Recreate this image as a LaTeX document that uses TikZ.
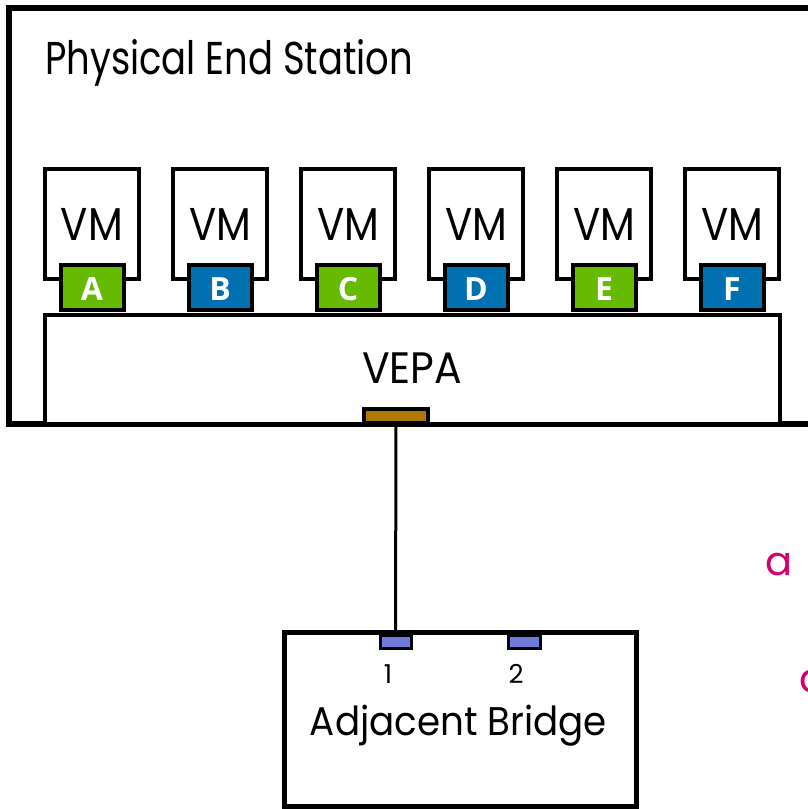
\documentclass[tikz,border=0pt]{standalone}
\usepackage{fontspec}
\setmainfont{Poppins}
\newfontfamily\portfont{Open Sans}
\definecolor{pgreen}{RGB}{102,187,0}
\definecolor{pblue}{RGB}{0,112,176}
\definecolor{pbrown}{RGB}{176,120,0}
\definecolor{pviolet}{RGB}{111,123,219}
\definecolor{pmagenta}{RGB}{210,0,110}
\tikzset{
  vmbox/.style={draw, line width=4pt, fill=white, minimum width=94pt, minimum height=110pt, inner sep=0pt},
  port/.style={draw, line width=4pt, minimum width=63pt, minimum height=45pt, inner sep=0pt},
  portlbl/.style={text=white, font=\portfont\bfseries\fontsize{32}{32}\selectfont, inner sep=0pt, anchor=base},
  vmlbl/.style={font=\fontsize{46}{46}\selectfont, inner sep=0pt, anchor=base},
  bport/.style={draw, line width=3pt, fill=pviolet, minimum height=13pt, inner sep=0pt},
}
\begin{document}
\begin{tikzpicture}[x=1pt,y=-1pt]
\useasboundingbox (0,0) rectangle (807,809);
% outer station box
\draw[line width=6pt] (9,8) rectangle (840,424);
\node[anchor=base west, inner sep=0pt, font=\fontsize{46}{46}\selectfont] (title) at (45,74) {\resizebox{368pt}{\height}{Physical End Station}};
% VMs
\foreach \i/\L/\c in {0/A/pgreen,1/B/pblue,2/C/pgreen,3/D/pblue,4/E/pgreen,5/F/pblue}{
  \node[vmbox] (vm\L) at ({92+128*\i},224) {};
  \node[vmlbl] (vmt\L) at ({92+128*\i},240) {\resizebox{62pt}{\height}{VM}};
}
% VEPA
\node[draw, line width=4pt, fill=white, minimum width=735pt, minimum height=109pt, inner sep=0pt] (vepa) at (412.5,369.5) {};
\node[vmlbl, font=\fontsize{44}{44}\selectfont] (vepat) at (412,383) {\resizebox{100pt}{\height}{VEPA}};
\foreach \i/\L/\c in {0/A/pgreen,1/B/pblue,2/C/pgreen,3/D/pblue,4/E/pgreen,5/F/pblue}{
  \node[port, fill=\c] (p\L) at ({92+128*\i},287.5) {};
  \node[portlbl] (pl\L) at ({92+128*\i},300) {\L};
}
\node[draw, line width=4pt, fill=pbrown, minimum width=64pt, minimum height=14pt, inner sep=0pt] (vport) at (396,416) {};
% bridge
\node[draw, line width=5pt, minimum width=352pt, minimum height=174pt, inner sep=0pt] (bridge) at (460,719) {};
\node[bport, minimum width=31pt] (b1) at (395.5,641.5) {};
\node[bport, minimum width=32pt] (b2) at (524,641.5) {};
\node[inner sep=0pt, anchor=base, font=\fontsize{26}{26}\selectfont] (n1) at (388,683) {1};
\node[inner sep=0pt, anchor=base, font=\fontsize{26}{26}\selectfont] (n2) at (516,683) {2};
\node[inner sep=0pt, anchor=base, font=\fontsize{40}{40}\selectfont] (bt) at (458.5,735) {\resizebox{297pt}{\height}{Adjacent Bridge}};
% connector
\draw[line width=3pt] (vport.south) -- (b1.north);
% magenta fragments
\node[inner sep=0pt, anchor=base, text=pmagenta, font=\fontsize{40}{40}\selectfont] (ma) at (779,575) {a};
\node[inner sep=0pt, anchor=base west, text=pmagenta, font=\fontsize{40}{40}\selectfont] (mb) at (799,692) {a};
\end{tikzpicture}
\end{document}
